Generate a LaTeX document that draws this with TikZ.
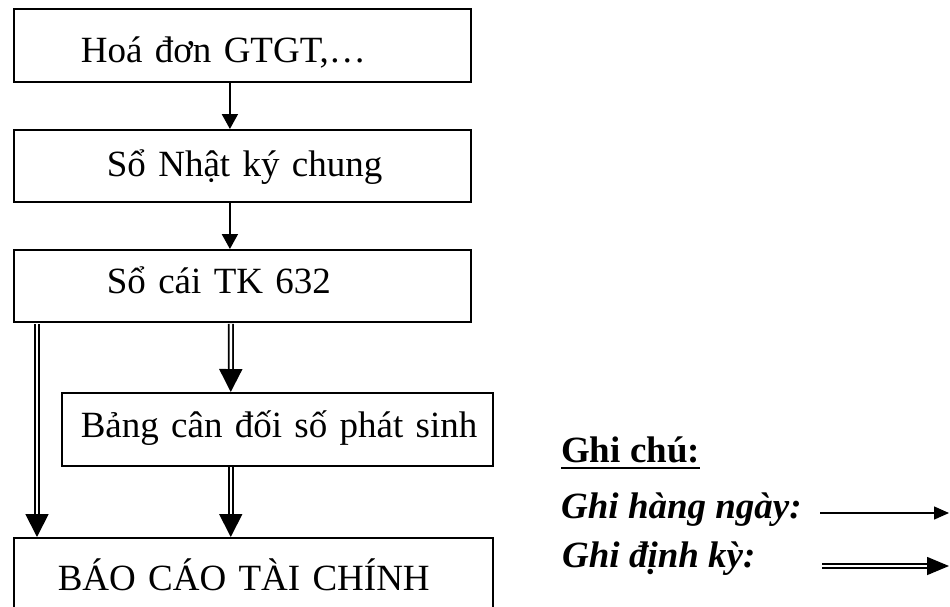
\documentclass[tikz,border=0pt]{standalone}
\usepackage{fontspec}
\setmainfont{Liberation Serif}
\usetikzlibrary{arrows.meta}
\begin{document}
\begin{tikzpicture}[x=1pt,y=-1pt,
  every node/.style={font=\fontsize{37}{44}\selectfont},
  box/.style={draw, line width=1.8pt, rectangle, anchor=north west, inner sep=0pt, align=left},
  sarrow/.style={line width=2pt, -{Triangle[length=15pt,width=16pt]}},
  darrow/.style={double, double distance=2.4pt, line width=1.8pt, shorten <=1pt, -{Triangle[length=23pt,width=23pt]}},
  lsarrow/.style={line width=1.4pt, -{Triangle[length=15pt,width=13pt]}},
  ldarrow/.style={double, double distance=2.2pt, line width=1.5pt, -{Triangle[length=22pt,width=18pt]}},
  lbl/.style={anchor=base west, inner sep=0pt}]
\fill[white] (0,0) rectangle (950,606);
\path[use as bounding box] (0,0) rectangle (950,606);
\clip (0,0) rectangle (950,606);

% boxes
\node[box, minimum width=457pt, minimum height=73pt, text width=457pt, text height=35pt, text depth=0pt]
  (b1) at (13,8) {\noindent\hspace*{67pt}Hoá đơn GTGT,…};
\node[box, minimum width=457pt, minimum height=72pt, text width=457pt, text height=28pt, text depth=6pt]
  (b2) at (13,129) {\noindent\hspace*{93pt}Sổ Nhật ký chung};
\node[box, minimum width=457pt, minimum height=72pt, text width=457pt, text height=24pt, text depth=8pt]
  (b3) at (13,249) {\noindent\hspace*{93pt}Sổ cái TK 632};
\node[box, line width=1.5pt, minimum width=431pt, minimum height=73pt, text width=431pt, text height=26pt, text depth=9pt]
  (b4) at (61,392) {\noindent\hspace*{19pt}Bảng cân đối số phát sinh};
\node[box, line width=1.5pt, minimum width=479pt, minimum height=75pt, text width=479pt, text height=31pt, text depth=0pt]
  (b5) at (13,537) {\noindent\hspace*{44pt}BÁO CÁO TÀI CHÍNH};

% connectors
\draw[sarrow] ([xshift=-12.5pt]b1.south) -- ([xshift=-12.5pt]b2.north);
\draw[sarrow] ([xshift=-12.5pt]b2.south) -- ([xshift=-12.5pt]b3.north);
\draw[darrow] ([xshift=24pt]b3.south west) -- ([xshift=24pt]b5.north west);
\draw[darrow] ([xshift=-11.5pt]b3.south) -- ([xshift=-46.5pt]b4.north);
\draw[darrow, shorten <=0.8pt] ([xshift=-46.5pt]b4.south) -- ([xshift=-22.5pt]b5.north);

% legend
\node[lbl, font=\fontsize{37}{44}\selectfont\bfseries] (gc) at (561,462) {Ghi chú:};
\draw[line width=2.6pt] ([yshift=-6pt]gc.base west) -- ([yshift=-6pt]gc.base east);
\node[lbl, font=\fontsize{37}{44}\selectfont\bfseries\itshape] (gh) at (561,518) {Ghi hàng ngày:};
\node[lbl, font=\fontsize{37}{44}\selectfont\bfseries\itshape] (gd) at (562,567) {Ghi định kỳ:};
\coordinate (h1) at (820,513);
\coordinate (h2) at (949,513);
\coordinate (d1) at (822,566);
\coordinate (d2) at (949,566);
\draw[lsarrow] (h1) -- (h2);
\draw[ldarrow] (d1) -- (d2);
\end{tikzpicture}
\end{document}
